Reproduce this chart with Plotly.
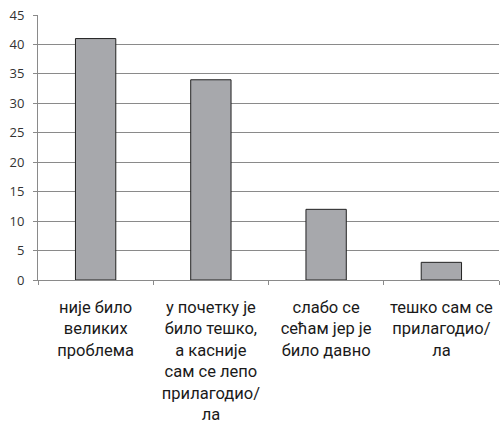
import plotly.graph_objects as go

categories = [
    "није било<br>великих<br>проблема",
    "у почетку је<br>било тешко,<br>а касније<br>сам се лепо<br>прилагодио/<br>ла",
    "слабо се<br>сећам јер је<br>било давно",
    "тешко сам се<br>прилагодио/<br>ла",
]
values = [41, 34, 12, 3]
y_ticks = [0, 5, 10, 15, 20, 25, 30, 35, 40, 45]

fig = go.Figure(go.Bar(
    x=categories, y=values,
    marker=dict(color="#a7a8ac", line=dict(color="#222222", width=1)),
    width=0.35,
))
fig.update_layout(
    width=500, height=438,
    margin=dict(l=38, r=1, t=15, b=158),
    paper_bgcolor="white", plot_bgcolor="white",
    showlegend=False,
    font=dict(family="Roboto, sans-serif", color="#1a1a1a"),
)
fig.update_yaxes(
    range=[0, 45], tickvals=y_ticks, automargin=False,
    showgrid=True, gridcolor="#8a8a8a", gridwidth=1,
    showline=True, linecolor="#8a8a8a", linewidth=1,
    ticks="outside", ticklen=4, tickcolor="#8a8a8a",
    tickfont=dict(size=13, family="Open Sans, sans-serif", color="#333333"),
    ticklabelstandoff=6, ticklabeloverflow="allow",
    zeroline=False,
)
fig.update_xaxes(
    automargin=False,
    showline=True, linecolor="#8a8a8a", linewidth=1,
    ticks="outside", ticklen=4, tickcolor="#8a8a8a", tickson="boundaries",
    tickfont=dict(size=16.5, color="#1a1a1a"),
    tickangle=0, ticklabelstandoff=12, ticklabeloverflow="allow",
)
fig.write_html(
    "out.html",
    config={"displayModeBar": False},
    post_script="document.body.style.margin='0';document.body.style.overflow='hidden';",
)
